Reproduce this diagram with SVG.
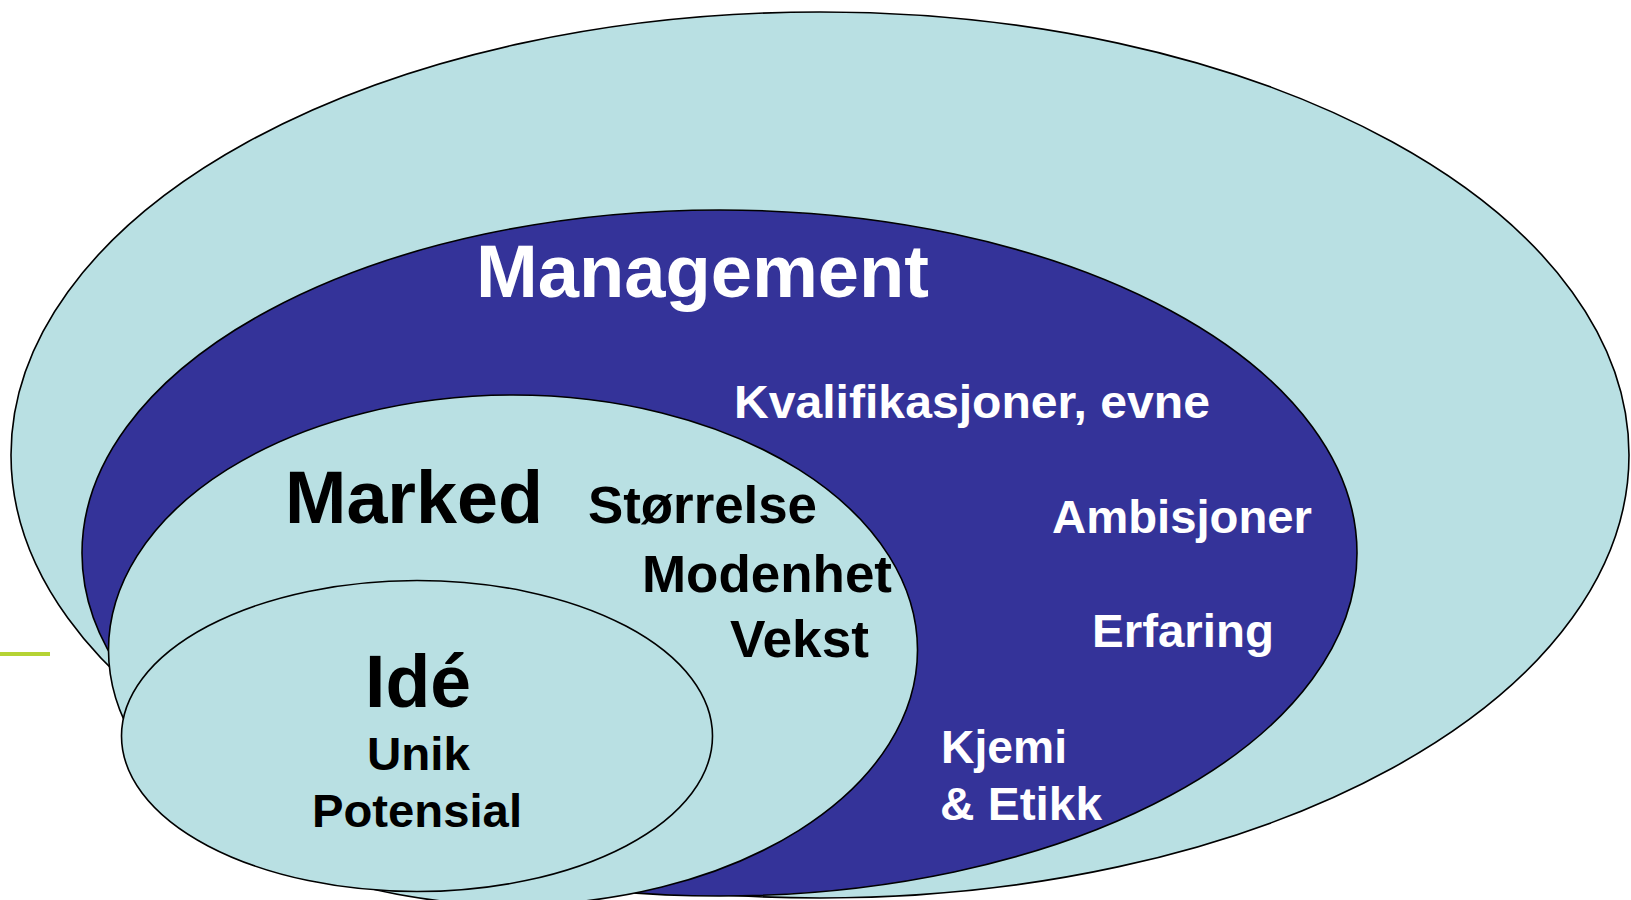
<svg xmlns="http://www.w3.org/2000/svg" width="1631" height="900" viewBox="0 0 1631 900">
<style>
.light{fill:#b9e0e3;stroke:#000;stroke-width:1.6}
.dark{fill:#343399;stroke:#000;stroke-width:1.6}
text{font-family:"Liberation Sans",Arial,sans-serif;font-weight:bold}
.w{fill:#fff}
.b{fill:#000}
</style>
<rect width="1631" height="900" fill="#fff"/>
<line x1="0" y1="654" x2="50" y2="654" stroke="#b5d334" stroke-width="4"/>
<g id="outer">
<ellipse class="light" cx="820" cy="455" rx="809" ry="443"/>
</g>
<g id="management">
<ellipse class="dark" cx="719.5" cy="553" rx="637.5" ry="343"/>
<text class="w" x="476" y="297" font-size="74" textLength="453" lengthAdjust="spacingAndGlyphs">Management</text>
<text class="w" x="734" y="418" font-size="47" textLength="476" lengthAdjust="spacingAndGlyphs">Kvalifikasjoner, evne</text>
<text class="w" x="1052" y="533" font-size="47" textLength="260" lengthAdjust="spacingAndGlyphs">Ambisjoner</text>
<text class="w" x="1092" y="647" font-size="47" textLength="182" lengthAdjust="spacingAndGlyphs">Erfaring</text>
<text class="w" x="941" y="763" font-size="47" textLength="126" lengthAdjust="spacingAndGlyphs">Kjemi</text>
<text class="w" x="940" y="820" font-size="47" textLength="162" lengthAdjust="spacingAndGlyphs">&amp; Etikk</text>
</g>
<g id="marked">
<ellipse class="light" cx="513" cy="650" rx="404.5" ry="255"/>
<text class="b" x="285" y="523" font-size="74" textLength="258" lengthAdjust="spacingAndGlyphs">Marked</text>
<text class="b" x="588" y="523" font-size="51" textLength="229" lengthAdjust="spacingAndGlyphs">Størrelse</text>
<text class="b" x="642" y="592" font-size="51" textLength="250" lengthAdjust="spacingAndGlyphs">Modenhet</text>
<text class="b" x="730" y="657" font-size="51" textLength="139" lengthAdjust="spacingAndGlyphs">Vekst</text>
</g>
<g id="ide">
<ellipse class="light" cx="417" cy="736" rx="295.5" ry="155.5"/>
<text class="b" x="365" y="707" font-size="74" textLength="106" lengthAdjust="spacingAndGlyphs">Idé</text>
<text class="b" x="367" y="770" font-size="47" textLength="103" lengthAdjust="spacingAndGlyphs">Unik</text>
<text class="b" x="312" y="827" font-size="47" textLength="210" lengthAdjust="spacingAndGlyphs">Potensial</text>
</g>
<g id="connectors"/>
</svg>
